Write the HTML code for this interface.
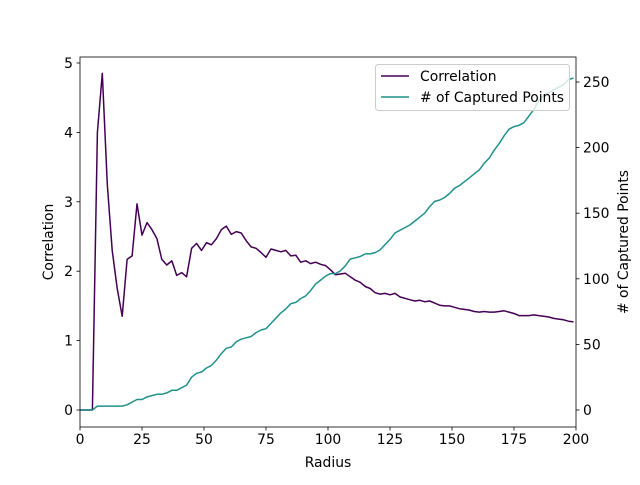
<!DOCTYPE html>
<html><head><meta charset="utf-8"><style>
body{margin:0;background:#fff;}
svg text{font-family:"DejaVu Sans","Liberation Sans",sans-serif;font-size:13.9px;fill:#000;}
</style></head><body>
<svg id="chart" width="640" height="480">
<rect width="640" height="480" fill="#fff"/>
<g id="plot"></g>
</svg>
<script>
const radii=[1,3,5,7,9,11,13,15,17,19,21,23,25,27,29,31,33,35,37,39,41,43,45,47,49,51,53,55,57,59,61,63,65,67,69,71,73,75,77,79,81,83,85,87,89,91,93,95,97,99,101,103,105,107,109,111,113,115,117,119,121,123,125,127,129,131,133,135,137,139,141,143,145,147,149,151,153,155,157,159,161,163,165,167,169,171,173,175,177,179,181,183,185,187,189,191,193,195,197,199];
const correlation=[0,0,0,4.0,4.85,3.25,2.3,1.75,1.35,2.17,2.22,2.97,2.52,2.7,2.6,2.47,2.17,2.09,2.15,1.94,1.98,1.92,2.33,2.4,2.3,2.41,2.38,2.47,2.6,2.65,2.53,2.57,2.55,2.44,2.35,2.33,2.27,2.2,2.32,2.3,2.28,2.3,2.22,2.23,2.13,2.15,2.11,2.13,2.1,2.08,2.02,1.95,1.96,1.97,1.92,1.87,1.84,1.78,1.75,1.69,1.67,1.68,1.66,1.68,1.63,1.61,1.59,1.57,1.58,1.56,1.57,1.54,1.51,1.5,1.5,1.48,1.46,1.45,1.44,1.42,1.41,1.42,1.41,1.41,1.42,1.43,1.41,1.39,1.36,1.36,1.36,1.37,1.36,1.35,1.34,1.32,1.31,1.3,1.28,1.27];
const capturedPoints=[0,0,0,3,3,3,3,3,3,4,6,8,8,10,11,12,12,13,15,15,17,19,25,28,29,32,34,38,43,47,48,52,54,55,56,59,61,62,66,70,74,77,81,82,85,87,91,96,99,102,104,104,106,110,115,116,117,119,119,120,122,126,130,135,137,139,141,144,147,150,155,159,160,162,165,169,171,174,177,180,183,188,192,198,203,209,214,216,217,219,224,229,236,240,242,244,246,248,252,253,257];
const xTicks=[0,25,50,75,100,125,150,175,200];
const yLeftTicks=[0,1,2,3,4,5];
const yRightTicks=[0,50,100,150,200,250];

const L=80,R=576,T=57,B=427;
const X=v=>L+(v-0)/200*(R-L);
const YL=v=>410-v*69.4;
const YR=v=>410-v*1.312;
const NS="http://www.w3.org/2000/svg";
const g=document.getElementById('plot');
function mk(t,a,txt){const e=document.createElementNS(NS,t);for(const k in a)e.setAttribute(k,a[k]);if(txt!==undefined)e.textContent=txt;g.appendChild(e);return e;}

let p=radii.map((r,i)=>X(r).toFixed(1)+','+YL(correlation[i]).toFixed(1));
p.unshift(X(0)+','+YL(0));
let l1=mk('polyline',{points:p.join(' '),fill:'none',stroke:'#440154',"stroke-width":1.5,"stroke-linejoin":"round"});


let p2=radii.map((r,i)=>X(r).toFixed(1)+','+YR(capturedPoints[i]).toFixed(1));
p2.unshift(X(0)+','+YR(0));
let l2=mk('polyline',{points:p2.join(' '),fill:'none',stroke:'#21918c',"stroke-width":1.5,"stroke-linejoin":"round"});



let fr=mk('rect',{x:L,y:T,width:R-L,height:B-T,fill:'none',stroke:'#000',"stroke-width":0.8});



xTicks.forEach(v=>{
 mk('line',{x1:X(v),x2:X(v),y1:B,y2:B+3.5,stroke:'#000',"stroke-width":0.8});
 let t=mk('text',{x:X(v),y:B+17,"text-anchor":"middle"},v);
 
 
});
yLeftTicks.forEach(v=>{
 mk('line',{x1:L-3.5,x2:L,y1:YL(v),y2:YL(v),stroke:'#000',"stroke-width":0.8});
 let t=mk('text',{x:L-7,y:YL(v)+5,"text-anchor":"end"},v);
 
 
});
yRightTicks.forEach(v=>{
 mk('line',{x1:R,x2:R+3.5,y1:YR(v),y2:YR(v),stroke:'#000',"stroke-width":0.8});
 let t=mk('text',{x:R+7,y:YR(v)+5,"text-anchor":"start"},v);
 
 
});
</script>
<svg style="position:absolute;left:0;top:0" width="640" height="480">
<text x="328" y="467" text-anchor="middle">Radius</text>
<text transform="translate(53,242) rotate(-90)" text-anchor="middle">Correlation</text>
<text transform="translate(628,242) rotate(-90)" text-anchor="middle"># of Captured Points</text>
<g>
<rect x="375.5" y="64.5" width="194" height="46" rx="3" fill="#fff" fill-opacity="0.8" stroke="#ccc"/>
<line x1="381" x2="409" y1="76" y2="76" stroke="#440154" stroke-width="1.5"/>
<text x="420" y="81">Correlation</text>
<line x1="381" x2="409" y1="97" y2="97" stroke="#21918c" stroke-width="1.5"/>
<text x="420" y="102"># of Captured Points</text>
</g>
</svg>
</body></html>
